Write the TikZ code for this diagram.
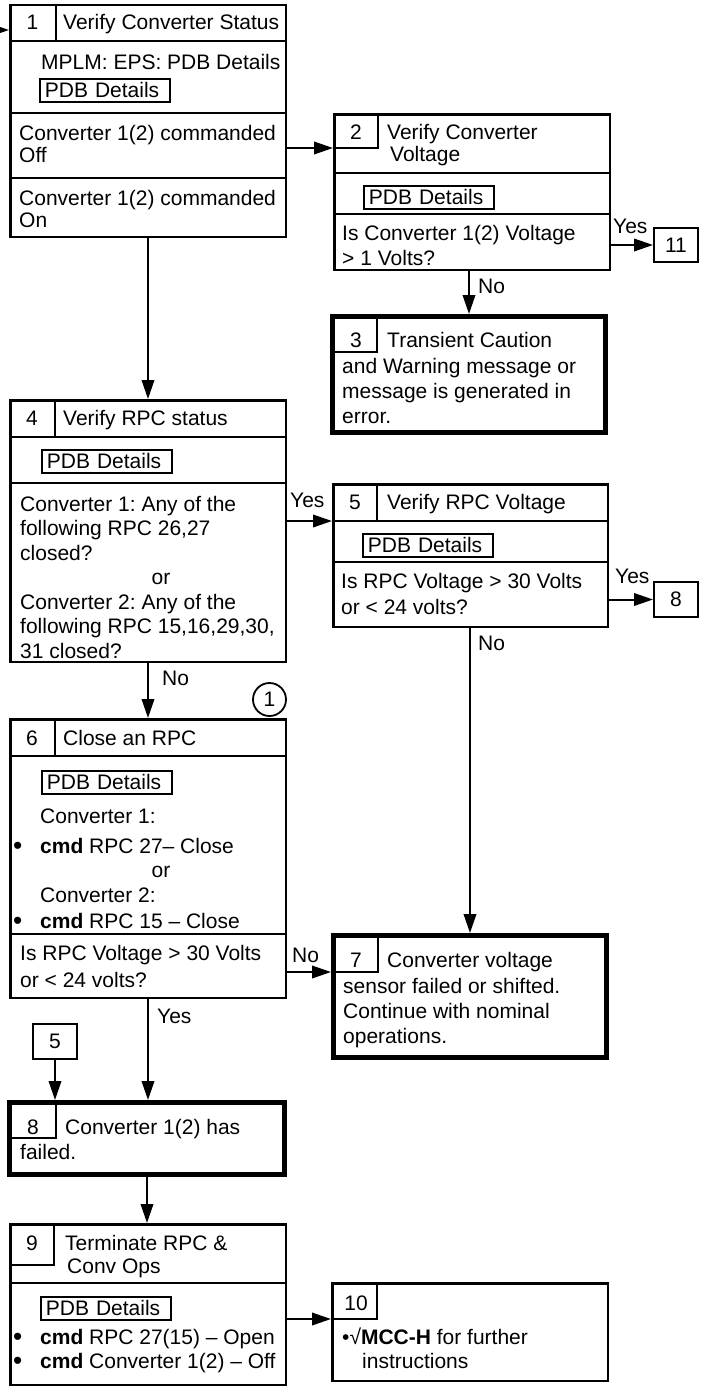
\documentclass[tikz,border=0pt]{standalone}
\usepackage{fontspec}
\setmainfont{Liberation Sans}
\usetikzlibrary{arrows.meta}
\newcommand{\bul}{\makebox[27pt][l]{\raisebox{-1pt}{\scalebox{1.25}{•}}}}
\begin{document}
\frenchspacing
\begin{tikzpicture}[x=1pt,y=-1pt,
  font=\fontsize{21pt}{25pt}\selectfont\frenchspacing,
  frame/.style={draw, line width=2.5pt, inner sep=0pt, anchor=north west},
  heavy/.style={draw, line width=5pt, inner sep=0pt, anchor=north west},
  tag/.style={draw, line width=2.2pt, inner sep=0pt, anchor=north west},
  div/.style={line width=2.5pt},
  cellline/.style={line width=2pt},
  pdb/.style={draw, line width=1.8pt, inner xsep=5pt, inner ysep=0pt,
              text width=120pt, align=left, minimum height=23pt, anchor=north west},
  txt/.style={anchor=base west, inner sep=0pt},
  num/.style={anchor=base, inner sep=0pt},
  arr/.style={line width=2pt, -{Triangle[length=19pt,width=12.5pt]}},
]
\useasboundingbox (0,0) rectangle (702,1389);

% ---- 1: Verify Converter Status
\node[frame, minimum width=275.5pt, minimum height=231.5pt] (b1) at (9,4) {};
\draw[cellline] (56,4) -- (56,41);
\draw[div] (9,41) -- (287,41);
\draw[div] (9,113) -- (287,113);
\draw[div] (9,178) -- (287,178);
\node[num] (n1) at (32.5,30) {1};
\node[txt] (h1) at (63,30) {Verify Converter Status};
\node[txt] (t1a) at (41,70) {MPLM: EPS: PDB Details};
\node[pdb] (p1) at (39,78) {PDB Details};
\node[txt] (t1b) at (19,140) {Converter 1(2) commanded};
\node[txt] (t1c) at (19,162) {Off};
\node[txt] (t1d) at (19,205) {Converter 1(2) commanded};
\node[txt] (t1e) at (19,227) {On};
\coordinate (in1) at (-30,30);

% ---- 2: Verify Converter Voltage
\node[frame, minimum width=275.5pt, minimum height=155.5pt] (b2) at (333,113) {};
\draw[cellline] (378,113) -- (378,148) -- (333,148);
\coordinate (e2) at (333,148);
\draw[div] (333,173) -- (611,173);
\draw[div] (333,214) -- (611,214);
\node[num] (n2) at (356,139) {2};
\node[txt] (h2a) at (387,139) {Verify Converter};
\node[txt] (h2b) at (390,161) {Voltage};
\node[pdb] (p2) at (363,185) {PDB Details};
\node[txt] (t2a) at (342,240) {Is Converter 1(2) Voltage};
\node[txt] (t2b) at (342,265) {> 1 Volts?};
\node[tag, minimum width=43.8pt, minimum height=33.8pt] (b11) at (653,227) {11};
\node[txt] (y2) at (613,233) {Yes};
\node[txt] (no2) at (478,293) {No};

% ---- 3: Transient Caution
\node[heavy, minimum width=273pt, minimum height=116pt] (b3) at (330,314) {};
\draw[cellline] (377,314) -- (377,352) -- (330,352);
\node[num] (n3) at (356,347) {3};
\node[txt] (h3) at (387,347) {Transient Caution};
\node[txt] (t3a) at (342,373) {and Warning message or};
\node[txt] (t3b) at (342,398) {message is generated in};
\node[txt] (t3c) at (342,423) {error.};

% ---- 4: Verify RPC status
\node[frame, minimum width=275.5pt, minimum height=261.5pt] (b4) at (9,399) {};
\draw[cellline] (55,399) -- (55,437);
\draw[div] (9,437) -- (287,437);
\draw[div] (9,483) -- (287,483);
\node[num] (n4) at (32,425) {4};
\node[txt] (h4) at (63,425) {Verify RPC status};
\node[pdb] (p4) at (41,449) {PDB Details};
\node[txt] (t4a) at (20,511) {Converter 1: Any of the};
\node[txt] (t4b) at (20,535.5) {following RPC 26,27};
\node[txt] (t4c) at (20,560) {closed?};
\node[num] (t4d) at (161,584.5) {or};
\node[txt] (t4e) at (20,609) {Converter 2: Any of the};
\node[txt] (t4f) at (20,633.5) {following RPC 15,16,29,30,};
\node[txt] (t4g) at (20,658) {31 closed?};
\node[txt] (y4) at (290,507) {Yes};
\node[txt] (no4) at (162,685) {No};
\node[circle, draw, line width=1.8pt, minimum size=33pt, inner sep=0pt] (c1) at (269.5,699.5) {1};

% ---- 5: Verify RPC Voltage
\node[frame, minimum width=274.5pt, minimum height=142.5pt] (b5) at (332,483) {};
\draw[cellline] (377,483) -- (377,521);
\coordinate (e5) at (332,521);
\draw[div] (332,521) -- (609,521);
\draw[div] (332,562) -- (609,562);
\node[num] (n5) at (355,509) {5};
\node[txt] (h5) at (387,509) {Verify RPC Voltage};
\node[pdb] (p5) at (362,533) {PDB Details};
\node[txt] (t5a) at (341,588) {Is RPC Voltage > 30 Volts};
\node[txt] (t5b) at (341,614) {or < 24 volts?};
\node[tag, minimum width=43.8pt, minimum height=34.8pt] (s8) at (653,581) {8};
\node[txt] (y5) at (615,583) {Yes};
\node[txt] (no5) at (478,650) {No};

% ---- 6: Close an RPC
\node[frame, minimum width=275.5pt, minimum height=278.5pt] (b6) at (9,718) {};
\draw[cellline] (55,718) -- (55,756);
\draw[div] (9,756) -- (287,756);
\draw[div] (9,934) -- (287,934);
\node[num] (n6) at (32,745) {6};
\node[txt] (h6) at (63,745) {Close an RPC};
\node[pdb] (p6) at (41,770) {PDB Details};
\node[txt] (t6a) at (40,823) {Converter 1:};
\node[txt] (t6b) at (13,853) {\bul\textbf{cmd} RPC 27– Close};
\node[num] (t6c) at (161,877) {or};
\node[txt] (t6d) at (40,902) {Converter 2:};
\node[txt] (t6e) at (13,928) {\bul\textbf{cmd} RPC 15 – Close};
\node[txt] (t6f) at (20,960) {Is RPC Voltage > 30 Volts};
\node[txt] (t6g) at (20,987) {or < 24 volts?};
\node[txt] (no6) at (292,962) {No};
\node[txt] (y6) at (157,1023) {Yes};

% ---- 7: Converter voltage sensor failed
\node[heavy, minimum width=273pt, minimum height=122pt] (b7) at (331,933) {};
\draw[cellline] (378,933) -- (378,972) -- (331,972);
\coordinate (e7) at (331,972);
\node[num] (n7) at (356,967) {7};
\node[txt] (h7) at (387,967) {Converter voltage};
\node[txt] (t7a) at (343,993) {sensor failed or shifted.};
\node[txt] (t7b) at (343,1018) {Continue with nominal};
\node[txt] (t7c) at (343,1043) {operations.};

% ---- off-page reference to 5
\node[tag, minimum width=43.8pt, minimum height=34.8pt] (s5) at (32,1023) {5};

% ---- 8: Converter has failed
\node[heavy, minimum width=275pt, minimum height=72pt] (b8) at (7,1100) {};
\draw[cellline] (56,1100) -- (56,1138) -- (7,1138);
\node[num] (n8) at (33,1134) {8};
\node[txt] (h8) at (65,1134) {Converter 1(2) has};
\node[txt] (t8a) at (20,1159) {failed.};

% ---- 9: Terminate RPC & Conv Ops
\node[frame, minimum width=275.5pt, minimum height=160.5pt] (b9) at (9,1223) {};
\draw[cellline] (54,1223) -- (54,1265) -- (9,1265);
\draw[div] (9,1283) -- (287,1283);
\node[num] (n9) at (32,1250) {9};
\node[txt] (h9a) at (65,1250) {Terminate RPC \&};
\node[txt] (h9b) at (67,1273) {Conv Ops};
\node[pdb] (p9) at (40,1296) {PDB Details};
\node[txt] (t9a) at (13,1344) {\bul\textbf{cmd} RPC 27(15) – Open};
\node[txt] (t9b) at (13,1368) {\bul\textbf{cmd} Converter 1(2) – Off};

% ---- 10: MCC-H
\node[frame, minimum width=275.5pt, minimum height=97.5pt] (b10) at (331,1282) {};
\draw[cellline] (377,1282) -- (377,1319) -- (331,1319);
\coordinate (e10) at (331,1319);
\node[num] (n10) at (356,1310) {10};
\node[txt] (t10a) at (342,1344) {•√\textbf{MCC-H} for further};
\node[txt] (t10b) at (362,1368) {instructions};

% ---- connectors
\draw[arr] (in1) -- (b1.west |- in1);
\draw[arr] (b1.east |- e2) -- (e2);
\draw[arr] (b2.east |- b11.west) -- (b11.west);
\draw[arr] (b3.north |- b2.south) -- (b3.north);
\draw[arr] (b1.south) -- (b4.north);
\draw[arr] (b4.east |- e5) -- (e5);
\draw[arr] (b5.east |- s8.west) -- (s8.west);
\draw[arr] (b7.north |- b5.south) -- (b7.north);
\draw[arr] (b4.south) -- (b6.north);
\draw[arr] (b6.east |- e7) -- (e7);
\draw[arr] (b6.south) -- (b6.south |- b8.north);
\draw[arr] (s5.south) -- (s5.south |- b8.north);
\draw[arr] (b8.south) -- (b8.south |- b9.north);
\draw[arr] (b9.east |- e10) -- (e10);
\end{tikzpicture}
\end{document}
